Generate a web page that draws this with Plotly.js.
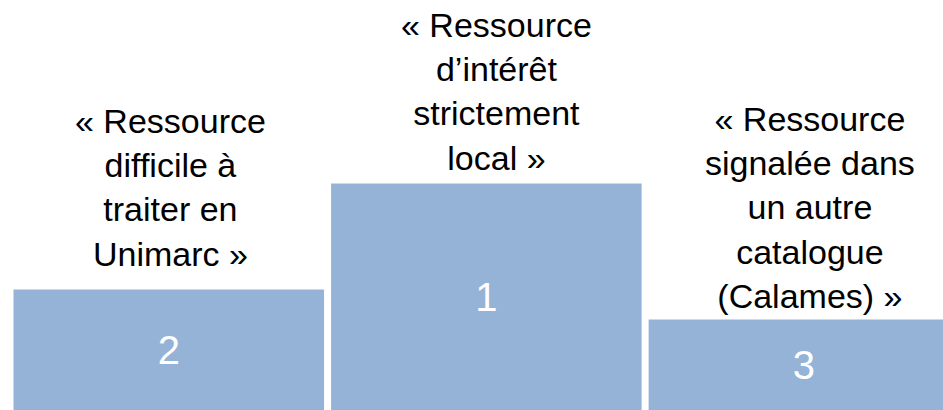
<!DOCTYPE html>
<html><head><meta charset="utf-8">
<script src="https://cdn.plot.ly/plotly-3.0.1.min.js"></script>
<style>html,body{margin:0;padding:0;overflow:hidden;background:#fff}</style>
</head><body><div id="chart" style="width:943px;height:410px"></div>
<script>
// Podium: position in the podium (rank), podium height, label above each step
const ranks = ['2', '1', '3'];
const heights = [1.205, 2.265, 0.905];
const labels = [
  '« Ressource<br>difficile à<br>traiter en<br>Unimarc »',
  '« Ressource<br>d’intérêt<br>strictement<br>local »',
  '« Ressource<br>signalée dans<br>un autre<br>catalogue<br>(Calames) »'
];

// layout-only offsets (pixels) for the labels: [xshift, yshift]
const labelOffsets = [[2, 15], [10, 5], [6, 3]];

const FONT = 'Liberation Sans, Arial, sans-serif';

const trace = {
  type: 'bar',
  x: ranks,
  y: heights,
  text: ranks,
  textposition: 'inside',
  insidetextanchor: 'middle',
  textangle: 0,
  textfont: {family: FONT, size: 40, color: '#ffffff'},
  marker: {color: '#95B3D7', line: {width: 0}},
  hoverinfo: 'skip',
  cliponaxis: true
};

// annotations placed on the category index of each bar
const annotations = labels.map((t, i) => ({
  xref: 'x', yref: 'y',
  x: i, y: heights[i],
  xanchor: 'center', yanchor: 'bottom',
  xshift: labelOffsets[i][0], yshift: labelOffsets[i][1],
  text: t, showarrow: false, align: 'center',
  font: {family: FONT, size: 34, color: '#000000'}
}));

const layout = {
  width: 943, height: 410,
  margin: {l: 10, r: 0, t: 0, b: 0, pad: 0},
  paper_bgcolor: '#ffffff', plot_bgcolor: '#ffffff',
  bargap: 0.022,
  showlegend: false,
  xaxis: {type: 'category', range: [-0.5, 2.438], visible: false, fixedrange: true},
  yaxis: {range: [0, 4.1], visible: false, fixedrange: true},
  annotations: annotations
};

Plotly.newPlot('chart', [trace], layout, {displayModeBar: false, staticPlot: true});
</script>
</body></html>
